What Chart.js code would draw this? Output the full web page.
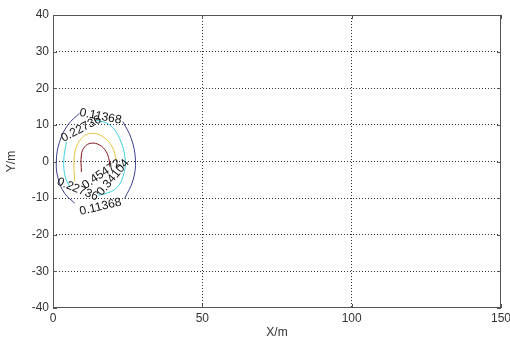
<!DOCTYPE html>
<html>
<head>
<meta charset="utf-8">
<script src="https://cdn.jsdelivr.net/npm/chart.js@4.4.1/dist/chart.umd.min.js"></script>
<style>
    html, body { margin: 0; padding: 0; background: #fff; }
    #wrap { width: 510px; height: 340px; }
</style>
</head>
<body>
<div id="wrap"><canvas id="contourChart" width="510" height="340"></canvas></div>
<script>
// axis ticks
const xTicks = [0, 50, 100, 150];
const yTicks = [-40, -30, -20, -10, 0, 10, 20, 30, 40];

// contour levels (labels as printed on the plot)
const levels = ['0.11368', '0.22736', '0.34104', '0.45472'];

// contour branches (gaps are where labels sit)
const outerLeftX = [8.9, 5.0, 2.2, 1.1, 1.7, 3.9, 7.3];
const outerLeftY = [13.2, 10.0, 5.4, 0.0, -4.6, -8.7, -11.4];
const outerRightX = [23.4, 26.2, 27.6, 26.8, 24.0];
const outerRightY = [10.9, 6.3, 0.4, -5.1, -10.1];

const cyanLeftX = [4.5, 3.6, 4.1, 5.6];
const cyanLeftY = [5.4, 0.4, -4.2, -6.9];
const cyanRightX = [14.5, 19.0, 22.3, 24.2, 23.4, 21.2, 17.8, 15.1];
const cyanRightY = [11.3, 10.0, 6.3, 0.4, -4.2, -7.3, -8.7, -9.2];

const yellowX = [7.3, 7.0, 7.5, 9.5, 12.8, 16.7, 19.8, 21.2];
const yellowY = [-5.5, -1.0, 3.1, 6.3, 7.7, 6.8, 4.0, 0.4];

const redX = [9.5, 9.5, 10.6, 12.8, 15.6, 17.8, 18.8, 19.0];
const redY = [-2.9, 1.8, 4.0, 5.0, 4.5, 2.7, 0.4, -1.4];

function pts(xs, ys) {
    return xs.map((x, i) => ({ x: x, y: ys[i] }));
}

function line(xs, ys, color) {
    return {
        data: pts(xs, ys),
        showLine: true,
        borderColor: color,
        borderWidth: 1,
        pointRadius: 0,
        tension: 0.4,
        fill: false
    };
}

// where each inline label goes: [level index, x, y, angle in degrees]
const labelPlaces = [
    [0, 15.9, 12.3, 11],
    [1, 9.4, 8.9, -28],
    [0, 15.9, -12.4, -13],
    [1, 8.2, -7.6, 22],
    [3, 16.2, -3.5, -34],
    [2, 20.1, -4.4, -50]
];

const frame = {
    id: 'frame',
    afterDraw(chart) {
        const { ctx, chartArea: a, scales } = chart;
        ctx.save();
        ctx.strokeStyle = '#555';
        ctx.lineWidth = 1;
        ctx.strokeRect(a.left + 0.5, a.top + 0.5, a.right - a.left - 1, a.bottom - a.top - 1);
        ctx.beginPath();
        yTicks.forEach(v => {
            const y = Math.round(scales.y.getPixelForValue(v)) + 0.5;
            ctx.moveTo(a.left, y); ctx.lineTo(a.left + 4, y);
            ctx.moveTo(a.right, y); ctx.lineTo(a.right - 4, y);
        });
        xTicks.forEach(v => {
            const x = Math.round(scales.x.getPixelForValue(v)) + 0.5;
            ctx.moveTo(x, a.bottom); ctx.lineTo(x, a.bottom - 4);
            ctx.moveTo(x, a.top); ctx.lineTo(x, a.top + 4);
        });
        ctx.stroke();
        ctx.restore();
    }
};

const contourLabels = {
    id: 'contourLabels',
    afterDatasetsDraw(chart) {
        const { ctx, scales } = chart;
        ctx.save();
        ctx.fillStyle = '#111';
        ctx.font = '12px "Liberation Sans", Arial, sans-serif';
        ctx.textAlign = 'center';
        ctx.textBaseline = 'middle';
        labelPlaces.forEach(([k, x, y, ang]) => {
            ctx.save();
            ctx.translate(scales.x.getPixelForValue(x), scales.y.getPixelForValue(y));
            ctx.rotate(ang * Math.PI / 180);
            ctx.fillText(levels[k], 0, 0);
            ctx.restore();
        });
        ctx.restore();
    }
};

const dotted = (ctx) => {
    const v = ctx.tick ? ctx.tick.value : null;
    return (v === ctx.scale.min || v === ctx.scale.max) ? 'rgba(0,0,0,0)' : 'rgba(0,0,0,0.8)';
};

const tickFont = { family: '"Liberation Sans", Arial, sans-serif', size: 12 };

new Chart(document.getElementById('contourChart'), {
    type: 'scatter',
    data: {
        datasets: [
            line(outerLeftX, outerLeftY, '#3c3c8c'),
            line(outerRightX, outerRightY, '#3c3c8c'),
            line(cyanLeftX, cyanLeftY, '#3fcfe0'),
            line(cyanRightX, cyanRightY, '#3fcfe0'),
            line(yellowX, yellowY, '#e6c440'),
            line(redX, redY, '#80101c')
        ]
    },
    options: {
        responsive: false,
        animation: false,
        layout: { padding: { top: 15, right: 9, left: 0, bottom: 0 } },
        plugins: {
            legend: { display: false },
            tooltip: { enabled: false }
        },
        scales: {
            x: {
                type: 'linear',
                min: 0,
                max: 150,
                afterBuildTicks: (s) => { s.ticks = xTicks.map(v => ({ value: v })); },
                afterFit: (s) => { s.height = 32; s.paddingLeft = 0; s.paddingRight = 0; },
                border: { display: false, dash: [1, 2] },
                grid: { color: dotted, drawTicks: false, lineWidth: 1 },
                ticks: { color: '#333', font: tickFont, padding: 3, maxRotation: 0 },
                title: { display: true, text: 'X/m', color: '#333', font: tickFont, padding: { top: 0, bottom: 0 } }
            },
            y: {
                type: 'linear',
                min: -40,
                max: 40,
                afterBuildTicks: (s) => { s.ticks = yTicks.map(v => ({ value: v })); },
                afterFit: (s) => { s.width = 53; s.paddingTop = 0; s.paddingBottom = 0; },
                border: { display: false, dash: [1, 2] },
                grid: { color: dotted, drawTicks: false, lineWidth: 1 },
                ticks: { color: '#333', font: tickFont, padding: 4 },
                title: { display: true, text: 'Y/m', color: '#333', font: tickFont, padding: { top: 4, bottom: 0 } }
            }
        }
    },
    plugins: [frame, contourLabels]
});
</script>
</body>
</html>
